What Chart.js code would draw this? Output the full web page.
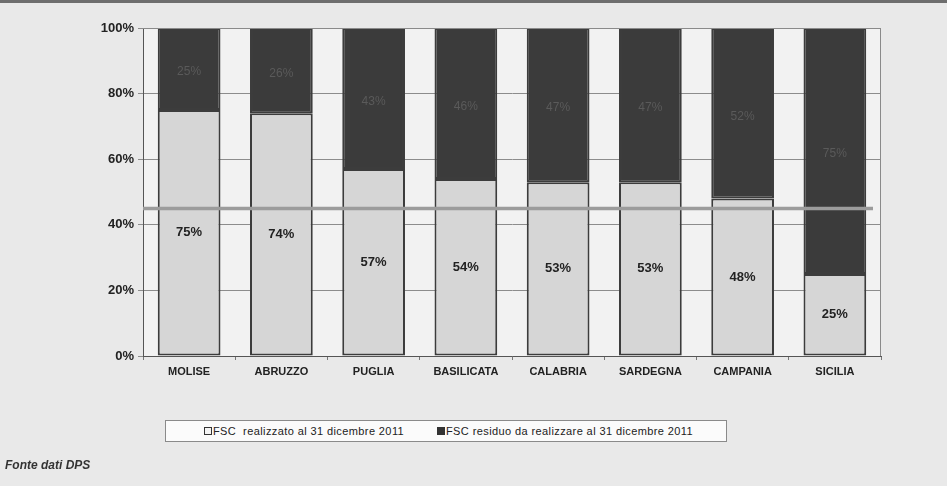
<!DOCTYPE html>
<html>
<head>
<meta charset="utf-8">
<script src="https://cdn.jsdelivr.net/npm/chart.js@4"></script>
<style>
  html, body { margin: 0; padding: 0; }
  body { width: 947px; height: 486px; background: #e9e9e9; position: relative; overflow: hidden; font-family: "Liberation Sans", Arial, sans-serif; }
  #topband { position: absolute; left: 0; top: 0; width: 947px; height: 3px; background: #6e6e6e; }
  #wrap { position: absolute; left: 0; top: 0; width: 947px; height: 486px; }
  #legenda { position: absolute; left: 165px; top: 420px; width: 560px; height: 20px; background: #fbfbfb; border: 1px solid #8a8a8a; font-size: 11px; letter-spacing: 0.4px; color: #222; line-height: 20px; }
  #legenda span { position: absolute; top: 0; white-space: nowrap; }
  .box { display: inline-block; width: 6px; height: 6px; border: 1px solid #333; margin-right: 1px; vertical-align: 0px; }
  #fonte { position: absolute; left: 5px; top: 458px; font-size: 12px; font-weight: bold; font-style: italic; color: #333; }
</style>
</head>
<body>
<div id="wrap"><canvas id="myChart" width="947" height="486"></canvas></div>
<div id="topband"></div>
<div id="legenda">
  <span style="left:38px"><i class="box" style="background:#f4f4f4"></i>FSC&nbsp; realizzato al 31 dicembre 2011</span>
  <span style="left:271px"><i class="box" style="background:#333"></i>FSC residuo da realizzare al 31 dicembre 2011</span>
</div>
<div id="fonte">Fonte dati DPS</div>
<script>
// dati
const regioni = ['MOLISE', 'ABRUZZO', 'PUGLIA', 'BASILICATA', 'CALABRIA', 'SARDEGNA', 'CAMPANIA', 'SICILIA'];
const realizzato = [75, 74, 57, 54, 53, 53, 48, 25];
const residuo = [25, 26, 43, 46, 47, 47, 52, 75];
const media = 45; // linea orizzontale grigia
const yTicks = [0, 20, 40, 60, 80, 100];

// sfondo + bordo dell'area del grafico
const sfondoPlot = {
  id: 'sfondoPlot',
  beforeDraw(chart) {
    const { ctx, chartArea: a } = chart;
    ctx.save();
    ctx.fillStyle = '#f2f2f2';
    ctx.fillRect(a.left, a.top, a.right - a.left, a.bottom - a.top);
    ctx.restore();
  },
  afterDatasetsDraw(chart) {
    const { ctx, chartArea: a } = chart;
    ctx.save();
    ctx.strokeStyle = '#8a8a8a';
    ctx.lineWidth = 1;
    ctx.beginPath();
    ctx.moveTo(a.left, a.top + 0.5);
    ctx.lineTo(a.right - 0.5, a.top + 0.5);
    ctx.lineTo(a.right - 0.5, a.bottom);
    ctx.stroke();
    ctx.restore();
  }
};

// linea della media
const lineaMedia = {
  id: 'lineaMedia',
  afterDatasetsDraw(chart) {
    const { ctx, chartArea: a, scales } = chart;
    const y = scales.y.getPixelForValue(media);
    ctx.save();
    ctx.strokeStyle = '#9c9c9c';
    ctx.lineWidth = 3.5;
    ctx.beginPath();
    ctx.moveTo(a.left, y);
    ctx.lineTo(a.right - 8, y);
    ctx.stroke();
    ctx.restore();
  }
};

// etichette percentuali dentro le barre
const etichette = {
  id: 'etichette',
  afterDatasetsDraw(chart) {
    const ctx = chart.ctx;
    chart.data.datasets.forEach((ds, i) => {
      const meta = chart.getDatasetMeta(i);
      meta.data.forEach((bar, j) => {
        const y = (bar.y + bar.base) / 2 + (i === 1 ? 3 : 0);
        ctx.save();
        ctx.textAlign = 'center';
        ctx.textBaseline = 'middle';
        if (i === 0) {
          ctx.font = 'bold 13px "Liberation Sans", Arial';
          ctx.fillStyle = '#222';
        } else {
          ctx.font = '12px "Liberation Sans", Arial';
          ctx.fillStyle = '#5a5a5a';
        }
        ctx.fillText(ds.data[j] + '%', bar.x, y);
        ctx.restore();
      });
    });
  }
};

const ctx = document.getElementById('myChart');
const myChart = new Chart(ctx, {
  type: 'bar',
  data: {
    labels: regioni,
    datasets: [{
      label: 'FSC  realizzato al 31 dicembre 2011',
      data: realizzato,
      backgroundColor: '#d6d6d6',
      borderColor: '#3c3c3c',
      borderWidth: 2,
      borderSkipped: false,
      categoryPercentage: 1,
      barPercentage: 0.68
    }, {
      label: 'FSC residuo da realizzare al 31 dicembre 2011',
      data: residuo,
      backgroundColor: '#3b3b3b',
      borderColor: '#3c3c3c',
      borderWidth: 2,
      borderSkipped: false,
      categoryPercentage: 1,
      barPercentage: 0.68
    }]
  },
  options: {
    responsive: false,
    animation: false,
    layout: { padding: { top: 28, right: 66, left: 0, bottom: 0 } },
    plugins: {
      legend: { display: false },
      tooltip: { enabled: false }
    },
    scales: {
      x: {
        stacked: true,
        grid: { drawOnChartArea: false, tickLength: 4, color: '#777', offset: true },
        border: { color: '#555', width: 1 },
        ticks: {
          color: '#222',
          font: { family: '"Liberation Sans", Arial', size: 11, weight: 'bold' },
          padding: 5,
          maxRotation: 0
        },
        afterFit(scale) { scale.height = 130; }
      },
      y: {
        stacked: true,
        min: 0,
        max: 100,
        grid: { color: '#8c8c8c', tickLength: 5 },
        border: { color: '#555', width: 1 },
        afterBuildTicks(scale) { scale.ticks = yTicks.map(v => ({ value: v })); },
        ticks: {
          color: '#222',
          font: { family: '"Liberation Sans", Arial', size: 13, weight: 'bold' },
          padding: 4,
          callback: v => v + '%'
        },
        afterFit(scale) { scale.width = 143; }
      }
    }
  },
  plugins: [sfondoPlot, lineaMedia, etichette]
});
</script>
</body>
</html>
